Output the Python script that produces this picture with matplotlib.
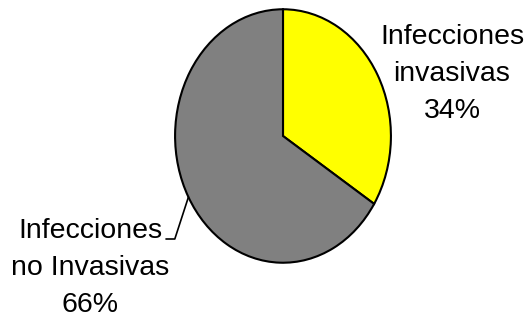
import matplotlib
matplotlib.use("Agg")
import matplotlib.pyplot as plt
import numpy as np

labels = [["Infecciones", "invasivas"], ["Infecciones", "no Invasivas"]]
values = [34, 66]
colors = ["#FFFF00", "#808080"]

W, H = 528, 321
fig = plt.figure(figsize=(W / 100, H / 100), dpi=100)

# pie box in pixels (left, top, width, height) -> stretched to an ellipse
px_l, px_t, px_w, px_h = 174, 8, 218, 256
ax = fig.add_axes([px_l / W, 1 - (px_t + px_h) / H, px_w / W, px_h / H])
wedges, _ = ax.pie(values, colors=colors, startangle=90, counterclock=False,
                   wedgeprops=dict(edgecolor="black", linewidth=1.5))
ax.set_xlim(-1.01, 1.01)
ax.set_ylim(-1.01, 1.01)
ax.set_aspect("auto")
ax.axis("off")

font = dict(family="Liberation Sans", fontsize=20.5, ha="center", va="baseline")
total = sum(values)
line_gap = 37


def put_label(lines, cx, y0):
    for i, s in enumerate(lines):
        fig.text(cx / W, 1 - (y0 + i * line_gap) / H, s, **font)


# first slice label, right side
put_label(labels[0] + [f"{values[0] * 100 // total}%"], 452, 44)

# second slice label, bottom left, with a leader line
put_label(labels[1] + [f"{values[1] * 100 // total}%"], 90, 238)
w = wedges[1]
mid = np.deg2rad((w.theta1 + w.theta2) / 2)
ax.annotate("", xy=(np.cos(mid), np.sin(mid)), xycoords="data",
            xytext=(166 / W, 1 - 239 / H), textcoords="figure fraction",
            arrowprops=dict(arrowstyle="-", color="black", lw=1.2,
                            connectionstyle="angle,angleA=0,angleB=72,rad=0",
                            shrinkA=0, shrinkB=0))

fig.savefig("out.png", dpi=100)
